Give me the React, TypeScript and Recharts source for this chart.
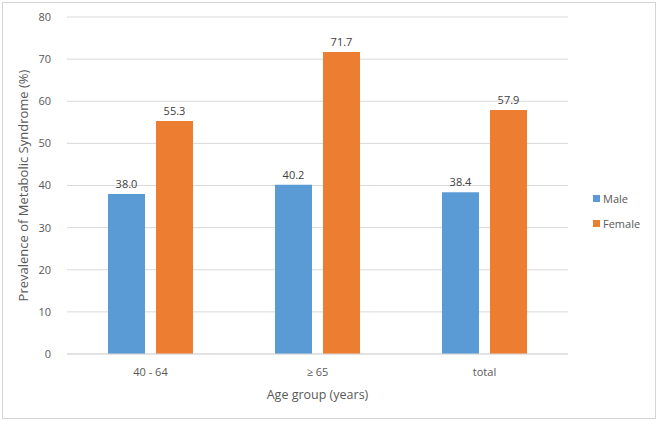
import React from "react";
import { Bar, BarChart, CartesianGrid, LabelList, Legend, XAxis, YAxis } from "recharts";

const categories = ["40 - 64", "\u2265 65", "total"];
const male = [38.0, 40.2, 38.4];
const female = [55.3, 71.7, 57.9];
const yTicks = [0, 10, 20, 30, 40, 50, 60, 70, 80];
const seriesOrder = ["Male", "Female"];

const chartData = categories.map((c, i) => ({ group: c, male: male[i], female: female[i] }));

const font = "'Open Sans', 'Noto Sans', sans-serif";
const textColor = "#595959";

function LegendBox({ payload }: any) {
  const items = [...(payload || [])].sort(
    (a: any, b: any) => seriesOrder.indexOf(a.value) - seriesOrder.indexOf(b.value)
  );
  return (
    <div style={{ fontFamily: font, fontSize: 11, color: textColor }}>
      {items.map((p: any) => (
        <div key={p.value} style={{ display: "flex", alignItems: "center", height: 25 }}>
          <span style={{ width: 7, height: 7, background: p.color, marginRight: 3, display: "inline-block" }} />
          {p.value}
        </div>
      ))}
    </div>
  );
}

export default function App() {
  return (
    <div style={{ position: "absolute", left: 0, top: 0, width: 661, height: 421, background: "#fff" }}>
      <div
        style={{
          position: "absolute",
          left: 2,
          top: 2,
          width: 652,
          height: 415,
          border: "1px solid #d4d4d4",
          pointerEvents: "none",
        }}
      />
      <BarChart
        width={661}
        height={421}
        data={chartData}
        margin={{ top: 17, right: 33, bottom: 17, left: 17 }}
        barGap={11}
        barCategoryGap="24.5%"
        style={{ fontFamily: font }}
      >
        <CartesianGrid vertical={false} stroke="#d9d9d9" />
        <XAxis
          dataKey="group"
          height={50}
          axisLine={{ stroke: "#d9d9d9" }}
          tickLine={false}
          tick={{ fontSize: 11, fill: textColor }}
          tickMargin={8}
          label={{ value: "Age group (years)", position: "insideBottom", offset: 5, fontSize: 12.5, fill: textColor }}
        />
        <YAxis
          width={50}
          domain={[0, 80]}
          ticks={yTicks}
          axisLine={false}
          tickLine={false}
          tick={{ fontSize: 11, fill: textColor }}
          tickMargin={10}
          label={{
            value: "Prevalence of Metabolic Syndrome (%)",
            angle: -90,
            position: "insideLeft",
            offset: 6,
            fontSize: 13,
            fill: textColor,
            style: { textAnchor: "middle" },
          }}
        />
        <Legend
          layout="vertical"
          align="right"
          verticalAlign="middle"
          wrapperStyle={{ left: 593, top: 186, width: 60 }}
          content={<LegendBox />}
        />
        <Bar dataKey="male" name="Male" fill="#5b9bd5" barSize={37} isAnimationActive={false}>
          <LabelList dataKey="male" position="top" offset={6} formatter={(v: any) => Number(v).toFixed(1)} style={{ fontSize: 11, fill: "#404040" }} />
        </Bar>
        <Bar dataKey="female" name="Female" fill="#ed7d31" barSize={37} isAnimationActive={false}>
          <LabelList dataKey="female" position="top" offset={6} formatter={(v: any) => Number(v).toFixed(1)} style={{ fontSize: 11, fill: "#404040" }} />
        </Bar>
      </BarChart>
    </div>
  );
}
